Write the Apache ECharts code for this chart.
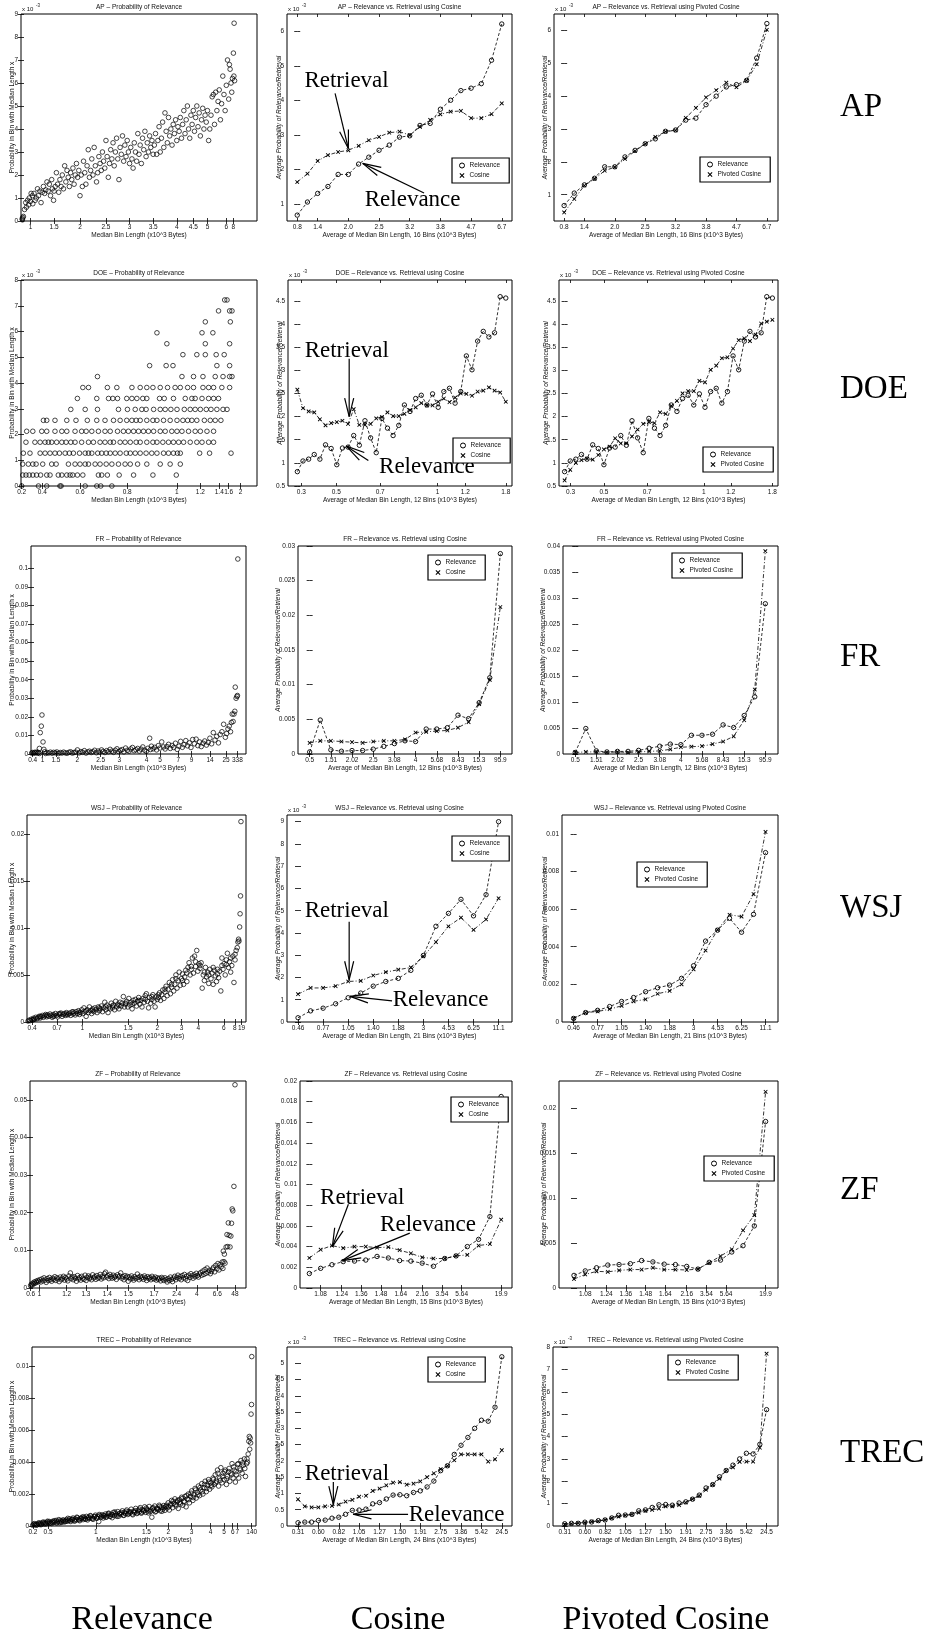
<!DOCTYPE html>
<html>
<head>
<meta charset="utf-8">
<script src="https://cdn.jsdelivr.net/npm/echarts@6/dist/echarts.min.js"></script>
<style>
  html, body { margin: 0; padding: 0; background: #fff; }
  #main { width: 935px; height: 1637px; }
</style>
</head>
<body>
<div id="main"></div>
<script>
// all probabilities are kept in units of 10^-3

// ---- AP ----
const apScatter = [[0.5,0.1],[0.8,0.15],[1,0.2],[0.6,0.05],[1.5,0.5],[2,0.8],[2.3,0.6],[2.8,0.9],[3.2,0.7],[3.5,1.0],[4,0.85],[4.3,1.2],[4.8,1.1],[5,0.75],
  [5.5,1.2],[6,0.9],[6.5,1.0],[7,1.4],[7.4,1.1],[8,1.3],[8.5,0.8],[9,1.25],[9.5,1.5],[10,1.2],[10.5,1.35],[11,1.7],[11.5,1.3],[12,1.6],[12.5,1.1],[13,1.8],[13.3,1.4],[13.8,0.9],[14,1.3],
  [14.5,1.5],[15,2.1],[15.5,1.6],[16,1.25],[16.5,1.8],[17,1.5],[17.5,2.0],[18,1.4],[18.5,2.4],[19,1.7],[19.5,2.2],[20,1.9],[20.5,1.5],[21,2.1],[21.5,1.8],[22,2.3],[22.5,1.6],[23,2.0],[23.5,2.5],[24,1.9],[24.5,2.2],
  [25,1.1],[25.5,2.0],[26,1.5],[26.5,2.6],[27,2.1],[27.5,1.6],[28,2.4],[28.5,3.1],[29,1.9],[29.5,2.2],[30,2.7],[30.5,2.0],[31,3.2],[31.5,2.4],[32,1.7],[32.5,2.1],[33,2.8],[33.5,2.5],[34,2.2],[34.5,3.0],[35,2.6],[35.5,2.3],[36,3.5],
  [36.5,2.8],[37,1.9],[37.5,2.5],[38,3.1],[38.5,2.7],[39,3.4],[39.5,2.4],[40,3.0],[40.5,3.6],[41,2.7],[41.5,1.8],[42,3.2],[42.5,2.9],[43,3.7],[43.5,2.6],[44,3.3],[44.5,2.8],[45,3.5],[45.5,3.0],[46,2.5],
  [46.5,3.2],[47,2.7],[47.5,2.3],[48,3.4],[48.5,3.0],[49,2.6],[49.5,3.8],[50,2.9],[50.5,3.3],[51,2.5],[51.5,3.6],[52,3.1],[52.5,3.9],[53,2.8],[53.5,3.4],[54,3.0],[54.5,3.7],[55,3.2],[55.5,3.5],[56,2.9],
  [56.5,3.3],[57,3.8],[57.5,2.9],[58,3.5],[58.5,4.1],[59,3.0],[59.5,3.6],[60,4.3],[60.5,3.2],[61,4.7],[61.5,3.9],[62,3.4],[62.5,4.5],[63,3.7],[63.5,4.0],[64,3.3],[64.5,4.2],[65,3.8],[65.5,4.4],[66,3.5],[66.5,4.1],
  [67,3.9],[67.5,4.5],[68,3.6],[68.5,4.2],[69,4.8],[69.5,3.8],[70,4.4],[70.5,5.0],[71,4.0],[71.5,3.6],[72,4.6],[72.5,4.2],
  [73,4.8],[73.5,3.9],[74,4.5],[74.5,5.0],[75,4.1],[75.5,4.7],[76,3.7],[76.5,4.4],[77,4.9],[77.5,4.0],[78,4.6],[78.5,4.3],[79,4.8],[79.5,3.5],[80,4.0],
  [80.5,4.6],[81,5.4],[81.5,5.5],[82,4.2],[82.5,5.6],[83,4.8],[83.5,5.2],[84,5.7],[84.5,4.4],[85,5.1],[85.5,6.3],[86,5.5],[86.5,4.8],[87,5.9],[87.5,7.0],[88,5.3],
  [88.3,6.8],[88.6,6.6],[89,6.0],[89.3,5.6],[89.6,6.2],[90,7.3],[90.2,6.3],[90.5,6.1],[90.3,8.6]];
const apScatterTicks = [[4,'1'],[14,'1.5'],[25,'2'],[36,'2.5'],[46,'3'],[56,'3.5'],[66,'4'],[73,'4.5'],[79,'5'],[87,'6'],[90,'8']];
const apRelevance = [0.67,1.05,1.3,1.5,1.85,1.85,2.15,2.35,2.55,2.7,2.93,2.97,3.27,3.33,3.74,4.0,4.28,4.35,4.48,5.16,6.21];
const apCosine = [1.63,1.87,2.24,2.41,2.5,2.55,2.68,2.84,2.94,3.06,3.09,2.99,3.23,3.43,3.59,3.67,3.69,3.48,3.48,3.6,3.91];
const apPivoted = [0.46,0.87,1.28,1.48,1.73,1.84,2.09,2.33,2.55,2.76,2.92,2.96,3.34,3.64,3.96,4.18,4.41,4.27,4.47,4.97,6.02];
const apBinTicks = [[0,'0.8'],[2,'1.4'],[5,'2.0'],[8,'2.5'],[11,'3.2'],[14,'3.8'],[17,'4.7'],[20,'6.7']];

// ---- DOE ---- (probabilities come in steps, so stored as [level, positions])
const doeScatterRows = [
  [0, [0.3,7.4,10.9,16.5,17,27.2,32.1,33.8,38.5]],
  [0.425, [0.7,2.1,3.5,5,6.6,8.3,10.9,12.3,15.8,17.3,19.4,20.8,21.9,23.9,26.2,32.8,34.2,36.6,41.6,47.7,55.9,65.8]],
  [0.85, [0.7,3.1,5,6.4,9.2,13,14.9,20.1,22.9,25,27.2,28.6,31.4,33.5,36.1,38.5,41.3,44.1,46.3,49.4,53.3,59,63.2,67.5]],
  [1.275, [1,3.8,8.1,10.2,12.3,14.4,16.3,18.7,20.5,22.2,24.8,27.2,28.6,30,32.5,34.2,36.1,37.8,39.9,42,44.6,46.3,48.4,50.5,53,55.4,57.6,60.4,62.5,64.6,66.3,67.5,75.7,79.9,89]],
  [1.7, [2.1,5.9,8.1,10.2,11.6,13,15.1,17.3,19.1,21.1,22.9,25.7,28.6,30.7,33.5,35.6,37.8,39.2,42,44.1,46.3,48.8,50.5,53.3,55.9,57.6,60.1,62.5,64.6,66.8,68.9,71.7,74.5,76.7,79.5,81.6]],
  [2.125, [2.4,5,8.8,10.9,14.4,17.3,19.4,22.9,25.7,27.6,30,32.8,35.6,37.8,40.9,43.4,45.5,47.7,49.8,51.9,54,56.2,59,61.1,63.9,66.1,68.2,71,73.8,76,78.8,81.6]],
  [2.55, [9.5,10.9,14.4,19.4,23.3,28.1,32.1,35.6,39.2,42,44.8,47,48.8,50.5,53.3,55.9,57.6,60.4,63.2,66.1,68.6,70.6,72.4,74.5,77.7,80.2,82.3,84.7]],
  [2.975, [21.1,27.2,32.4,41.3,45.1,48.4,51.2,53,56.2,59,61.1,63.5,66.1,69.2,71.7,73.8,76,78.5,80.5,83,85.6,87.3]],
  [3.4, [23.9,32.1,37.1,38.9,40.9,44.8,47,49.1,51.6,53.3,58.7,60.7,64.6,69.6,72.4,73.8,76.7,79.5,81.6,83.7]],
  [3.825, [26.2,28.6,36.6,40.6,47,50.5,53.3,55.9,59,62.1,65.3,67.5,70.6,73.1,77.1,79.5,81.6,85.1,88.4]],
  [4.25, [32.4,68.2,73.1,77.1,82.3,85.6,88.4,89.4]],
  [4.675, [54.5,61.5,64.4,83,88.4]],
  [5.1, [68.6,74.5,78.1,82.7,86.1]],
  [5.525, [61.8,78.1,88.4]],
  [5.95, [57.6,76.7,81.3]],
  [6.375, [78.1,88.7]],
  [6.8, [83.7,88.4,89.4]],
  [7.225, [86.3,87.3]]
];
const doeScatterTicks = [[0.3,'0.2'],[9,'0.4'],[25,'0.6'],[45,'0.8'],[66,'1'],[76,'1.2'],[84,'1.4'],[88,'1.6'],[93,'2']];
const doeRelevance = [0.81,1.04,1.08,1.18,1.08,1.39,1.31,0.96,1.32,1.34,1.59,1.38,1.91,1.54,1.22,1.96,1.75,1.59,1.81,2.25,2.11,2.39,2.46,2.25,2.49,2.2,2.54,2.61,2.29,2.54,3.31,3.01,3.63,3.84,3.72,3.81,4.59,4.56];
const doeCosine = [2.58,2.18,2.11,2.09,1.94,1.81,1.86,1.88,1.91,1.84,2.16,1.82,1.82,1.84,1.96,1.99,2.09,2.01,2.01,2.06,2.14,2.2,2.29,2.24,2.24,2.32,2.39,2.31,2.41,2.5,2.49,2.45,2.54,2.56,2.63,2.56,2.52,2.32];
const doePivoted = [0.62,0.85,1.0,1.06,1.09,1.07,1.17,1.29,1.35,1.53,1.42,1.42,1.57,1.72,1.84,1.88,1.86,2.09,2.06,2.23,2.34,2.5,2.55,2.55,2.77,2.74,3.01,3.1,3.26,3.28,3.47,3.65,3.69,3.63,3.77,4.01,4.05,4.09];
const doeBinTicksCos = [[0.7,'0.3'],[6.9,'0.5'],[14.7,'0.7'],[24.9,'1'],[29.8,'1.2'],[37,'1.8']];
const doeBinTicksPiv = [[1.07,'0.3'],[7,'0.5'],[14.7,'0.7'],[24.8,'1'],[29.6,'1.2'],[37,'1.8']];

// ---- FR ----
const frScatter = [[0.3,0.5],[0.8,0.8],[1.2,0.4],[1.7,0.9],[2.2,0.6],[2.6,1.0],[3.1,0.5],[3.5,0.8],[3.9,0.3],
  [3.9,3.0],[4.3,11.5],[4.8,15],[5.1,21],[5.6,6.5],[6.0,2.5],[6.4,1.2],
  [6.8,0.3],[7.5,0.8],[8.2,0.5],[9,1.0],[9.8,0.4],[10.5,0.9],[11.3,0.6],[12,1.1],[12.8,0.3],[13.6,0.8],[14.4,0.5],[15.2,1.0],[16,0.6],[16.8,0.4],[17.6,0.9],[18.4,1.2],[19.2,0.5],[20,0.8],[20.8,1.0],[21.6,2.2],[22.4,0.6],[23.2,1.3],[24,0.9],[24.8,1.8],[25.6,0.5],[26.4,1.1],[27.2,1.5],[28,0.8],[28.8,1.2],[29.6,2.0],[30.4,0.7],
  [31.2,1.6],[32,1.0],[32.8,2.2],[33.6,1.4],[34.4,0.8],[35.2,1.8],[36,1.2],[36.8,2.5],[37.6,1.5],[38.4,0.9],[39.2,2.0],[40,2.8],[40.8,1.3],[41.6,1.9],[42.4,2.4],[43.2,1.1],[44,3.2],[44.8,2.0],[45.6,1.5],[46.4,2.7],[47.2,3.5],[48,1.8],[48.8,2.3],[49.6,3.0],[50.4,1.6],[51.2,2.6],[52,3.8],[52.8,2.1],[53.6,1.4],[54.4,3.1],[55.2,8.5],[55.6,2.4],
  [56,4.2],[56.8,2.8],[57.6,3.6],[58.4,2.2],[59.2,4.5],[60,3.2],[60.8,6.5],[61.6,3.8],[62.4,2.7],[63.2,4.0],[64,5.2],[64.8,3.0],[65.6,4.6],[66.4,3.5],[67.2,5.8],[68,2.5],[68.8,4.2],[69.6,6.8],[70.4,3.6],[71.2,5.0],[72,7.2],[72.8,4.4],[73.6,6.0],[74.4,3.5],[75.2,7.8],
  [76,5.5],[76.8,8.0],[77.6,4.5],[78.4,6.5],[79.2,4.0],[80,5.8],[80.8,7.0],[81.6,4.8],[82.4,6.2],[83.2,8.5],[84,5.5],[84.8,11.5],[85.6,7.5],[86.4,9.5],[87.2,6.0],[88,10.5],[88.8,12.0],[89.6,16],[90.4,9.0],
  [91,11],[91.6,13.5],[92.2,15],[92.8,12],[93.2,17],[93.6,21.5],[94,17.5],[94.4,21.5],[94.8,23],[95,36],[95.4,30],[95.8,31],[96,31.5],[96.2,105]];
const frScatterTicks = [[0.8,'0.4'],[5.4,'1'],[11.6,'1.5'],[21.5,'2'],[32.4,'2.5'],[41.1,'3'],[53.8,'4'],[60,'5'],[68.5,'7'],[74.7,'9'],[83.3,'14'],[90.7,'25'],[96,'338']];
const frRelevance = [0.3,4.9,0.6,0.4,0.5,0.5,0.7,1.1,1.5,1.9,1.8,3.6,3.6,3.8,5.6,5.1,7.4,11.0,28.9];
const frCosine = [1.6,1.9,1.9,1.8,1.7,1.6,1.8,1.9,1.9,2.1,3.1,3.2,3.3,3.4,3.8,4.6,7.2,10.7,21.2];
const frPivoted = [0.3,0.4,0.4,0.3,0.4,0.3,0.4,0.5,0.6,0.9,1.3,1.4,1.5,1.9,2.4,3.4,6.5,12.4,39.0];
const frBinTicks = [[0,'0.5'],[2,'1.51'],[4,'2.02'],[6,'2.5'],[8,'3.08'],[10,'4'],[12,'5.68'],[14,'8.43'],[16,'15.3'],[18,'95.9']];

// ---- WSJ ----
const wsjScatter = [[0.5,0.1],[1,0.2],[1.5,0.15],[2,0.3],[2.5,0.22],[3,0.4],[3.5,0.3],[4,0.5],[4.5,0.35],[5,0.45],[5.5,0.6],[6,0.42],[6.5,0.55],[7,0.7],[7.5,0.5],[8,0.65],[8.5,0.8],[9,0.55],[9.5,0.75],[10,0.6],[10.5,0.85],[11,0.7],[11.5,0.5],[12,0.8],
  [12.5,0.65],[13,0.9],[13.5,0.7],[14,0.55],[14.5,0.85],[15,0.75],[15.5,0.95],[16,0.6],[16.5,0.8],[17,0.9],[17.5,0.7],[18,1.0],[18.5,0.75],[19,0.85],[19.5,0.95],[20,0.7],[20.5,1.05],[21,0.85],[21.5,0.95],[22,0.75],[22.5,1.1],[23,0.9],[23.5,1.2],[24,0.8],[24.5,1.0],
  [25,1.3],[25.5,0.9],[26,1.5],[26.5,1.1],[27,0.6],[27.5,1.3],[28,1.0],[28.5,1.6],[29,1.2],[29.5,0.9],[30,1.4],[30.5,1.1],[31,1.5],[31.5,1.3],[32,1.0],[32.5,1.6],[33,1.2],[33.5,1.4],[34,1.7],[34.5,1.1],[35,1.5],[35.5,2.1],[36,1.3],[36.5,1.8],[37,1.0],[37.5,1.6],[38,1.4],[38.5,2.0],[39,1.5],[39.5,1.8],[40,1.3],[40.5,2.2],[41,1.6],[41.5,1.9],[42,1.4],[42.5,2.1],[43,1.7],[43.5,2.0],[44,2.7],[44.5,1.6],
  [45,1.9],[45.5,2.2],[46,1.6],[46.5,2.5],[47,1.8],[47.5,2.1],[48,1.4],[48.5,2.3],[49,2.0],[49.5,2.4],[50,1.7],[50.5,2.2],[51,2.6],[51.5,1.9],[52,2.3],[52.5,1.6],[53,2.5],[53.5,2.1],[54,2.8],[54.5,3.0],[55,2.2],[55.5,1.5],[56,2.6],[56.5,2.0],[57,2.4],[57.5,2.9],[58,2.2],[58.5,1.6],[59,2.7],[59.5,2.4],
  [60,2.6],[60.5,3.1],[61,2.3],[61.5,2.9],[62,3.4],[62.5,2.5],[63,3.2],[63.5,3.8],[64,2.8],[64.5,3.5],[65,4.2],[65.5,3.0],[66,3.7],[66.5,4.5],[67,3.3],[67.5,4.0],[68,5.0],[68.5,3.6],[69,4.4],[69.5,5.3],[70,3.9],
  [70.5,4.6],[71,5.1],[71.5,4.0],[72,4.8],[72.5,5.5],[73,4.3],[73.5,5.8],[74,6.3],[74.5,5.0],[75,5.6],[75.5,6.8],[76,5.2],[76.5,7.0],[77,5.9],[77.5,7.6],[78,5.4],[78.5,6.2],[79,5.7],
  [79.5,6.3],[80,3.6],[80.5,5.0],[81,4.4],[81.5,5.8],[82,4.8],[82.5,5.3],[83,4.1],[83.5,5.6],[84,4.6],[84.5,5.2],[85,4.0],[85.5,5.5],[86,4.9],[86.5,4.3],[87,5.1],[87.5,4.7],[88,5.4],
  [88.5,3.3],[89,6.8],[89.5,5.6],[90,6.2],[90.5,5.0],[91,6.6],[91.5,7.3],[92,5.8],[92.5,6.4],[93,5.3],
  [93.5,6.0],[94,7.0],[94.5,4.2],[95,6.6],[95.5,7.6],[96,7.9],[96.3,8.5],[96.6,8.8],[96.8,8.6],
  [97.1,10.1],[97.3,11.5],[97.5,13.4],[97.7,21.3],
  [3,0.25],[6,0.6],[9,0.7],[12,0.6],[15,0.9],[18,0.85],[21,1.1],[24,1.05],[27,1.2],[30,1.25],[33,1.5],[36,1.6],[39,1.7],[42,1.75],[45,2.0],[48,1.9],[51,2.3],[54,2.4],[57,2.7],[60,2.9],[63,3.5],[66,4.0],[68,4.6],[71,4.4],[73,5.2],[75,5.9],[77,6.4],[79,6.0],[81,5.3],[83,5.0],[85,5.8],[87,5.6],[89,6.0],[91,6.1],[93,6.8],[95,7.2]];
const wsjScatterTicks = [[2.3,'0.4'],[13.7,'0.7'],[25.3,'1'],[46.2,'1.5'],[59.5,'2'],[70.6,'3'],[78.2,'4'],[89.9,'6'],[94.9,'8'],[98,'19']];
const wsjRelevance = [0.19,0.5,0.62,0.82,1.09,1.3,1.61,1.82,1.96,2.32,2.99,4.3,4.88,5.51,4.77,5.72,9.0];
const wsjCosine = [1.25,1.53,1.53,1.61,1.82,1.85,2.09,2.24,2.35,2.45,2.95,3.59,4.3,4.69,4.14,4.61,5.56];
const wsjPivoted = [0.2,0.5,0.56,0.68,0.86,1.1,1.2,1.5,1.65,2.0,2.8,3.8,4.9,5.7,5.6,6.8,10.1];
const wsjBinTicks = [[0,'0.46'],[2,'0.77'],[4,'1.05'],[6,'1.40'],[8,'1.88'],[10,'3'],[12,'4.53'],[14,'6.25'],[16,'11.1']];

// ---- ZF ----
const zfScatter = [[0.3,0.6],[0.6,1.0],[1,0.8],[1.3,1.3],[1.7,1.1],[2,1.6],[2.4,1.3],[2.8,1.8],[3.2,1.5],[3.6,2.0],[4,1.7],[4.5,2.2],[5,1.6],[5.5,2.4],[6,1.9],[6.5,2.7],[7,2.1],[7.5,1.5],[8,2.5],[8.5,2.0],[9,2.8],[9.5,2.2],[10,1.8],[10.5,2.6],[11,2.3],[11.5,3.0],[12,2.0],[12.5,2.7],[13,2.4],[13.5,1.7],[14,2.9],[14.5,2.2],[15,2.6],[15.5,3.1],[16,2.1],[16.5,2.8],[17,2.4],[17.5,1.9],[18,3.2],[18.7,4.0],[19,2.5],[19.5,2.9],[20,2.2],[20.5,3.0],[21,2.6],[21.5,1.8],[22,3.3],[22.5,2.4],[23,2.8],[23.5,2.1],[24,3.1],[24.5,2.6],[25,2.3],[25.5,3.4],[26,2.0],[26.5,2.8],[27,3.2],[27.5,2.5],[28,2.9],[28.5,2.2],[29,3.5],[29.5,2.7],[30,3.0],[30.5,2.3],[31,3.3],[31.5,2.6],[32,2.9],[32.5,3.6],[33,2.4],[33.5,3.1],[34,2.7],[34.5,3.8],[35,4.2],[35.5,2.9],[36,3.3],[36.5,2.5],[37,3.6],[37.5,3.0],[38,2.6],[38.5,3.4],[39,2.8],[39.5,3.1],[40,2.3],[40.5,3.5],[41,2.9],[41.5,3.2],[42,4.0],[42.5,2.6],[43,3.0],[43.5,2.2],[44,3.3],[44.5,2.7],[45,3.1],[45.5,1.8],[46,2.9],[46.5,2.4],[47,3.2],[47.5,2.6],[48,2.1],[48.5,3.0],[49,2.5],[49.7,3.7],[50,2.8],[50.5,2.2],[51,3.1],[51.5,2.6],[52,2.9],[52.5,2.3],[53,3.2],[53.5,2.7],[54,2.0],[54.5,3.0],[55,2.5],[55.5,2.8],[56,2.2],[56.5,3.1],[57,2.6],[57.5,2.4],[58,2.9],[58.5,2.1],[59,2.7],[59.5,2.3],[60,2.6],[60.5,1.9],[61,2.8],[61.5,2.4],[62,2.0],[62.5,2.7],[63,2.2],[63.5,1.6],[64,2.5],[64.5,2.0],[65,2.9],[65.5,2.3],[66,1.7],[66.5,2.6],[67,3.1],[67.5,2.2],[68,2.8],[68.5,3.4],[69,2.5],[69.5,3.0],[70,2.2],[70.5,3.3],[71,2.7],[71.5,3.6],[72,2.4],[72.5,3.1],[73,2.0],[73.5,3.4],[74,2.8],[74.5,3.8],[75,3.2],[75.5,2.6],[76,3.5],[76.5,3.0],[77,3.9],[77.5,3.3],[78,2.9],[78.5,3.7],[79,4.1],[79.5,3.4],[80,4.5],[80.5,3.6],[81,4.9],[81.5,3.9],[82,5.3],[82.5,4.2],[83,4.7],[83.5,3.8],[84,4.4],[84.5,5.0],[85,5.5],[85.5,4.3],[86,6.0],[86.5,5.1],[87,6.5],[87.5,4.8],[88,6.2],[88.5,5.6],[89,6.9],[89.3,5.2],[89.5,9.8],[89.8,7.0],[90,9.0],[90.3,6.6],[90.8,10.9],[91.2,14.2],[91.5,11.0],[91.8,17.3],[92.2,14.0],[92.6,10.9],[93,13.8],[93.3,17.2],[93.6,21],[93.9,20.5],[94.4,27],[94.9,54]];
const zfScatterTicks = [[0.3,'0.6'],[4.3,'1'],[17,'1.2'],[25.9,'1.3'],[35.8,'1.4'],[45.5,'1.5'],[57.4,'1.7'],[67.9,'2.4'],[77.2,'4'],[86.7,'6.6'],[94.9,'48']];
const zfRelevance = [1.4,1.9,2.25,2.55,2.6,2.7,3.05,2.9,2.65,2.6,2.4,2.1,2.85,3.1,4.0,4.7,6.9,18.5];
const zfCosine = [2.9,3.7,4.1,3.85,4.0,4.0,3.9,3.95,3.65,3.35,2.95,2.85,2.85,3.1,3.2,4.1,4.25,6.6];
const zfPivoted = [1.0,1.5,1.85,1.8,1.95,2.05,2.05,2.25,2.05,2.05,2.0,2.1,2.8,3.55,4.3,6.4,8.1,21.8];
const zfBinTicks = [[1,'1.08'],[2.87,'1.24'],[4.6,'1.36'],[6.36,'1.48'],[8.1,'1.64'],[10,'2.16'],[11.75,'3.54'],[13.5,'5.64'],[17,'19.9']];

// ---- TREC ----
const trecScatter = [[0.3,0.05],[0.8,0.1],[1.3,0.07],[1.8,0.12],[2.3,0.08],[2.8,0.15],[3.3,0.1],[3.8,0.18],[4.3,0.12],[4.8,0.2],[5.3,0.14],[5.8,0.22],[6.3,0.16],[6.8,0.25],[7.3,0.18],[7.8,0.28],[8.3,0.2],[8.8,0.15],[9.3,0.3],[9.8,0.22],[10.3,0.26],[10.8,0.35],[11.3,0.24],[11.8,0.3],[12.3,0.2],[12.8,0.33],[13.3,0.27],[13.8,0.38],[14.3,0.25],[14.8,0.32],
  [15.3,0.4],[15.8,0.3],[16.3,0.36],[16.8,0.45],[17.3,0.28],[17.8,0.4],[18.3,0.5],[18.8,0.35],[19.3,0.44],[19.8,0.38],[20.3,0.52],[20.8,0.42],[21.3,0.33],[21.8,0.48],[22.3,0.55],[22.8,0.4],[23.3,0.5],[23.8,0.45],[24.3,0.6],[24.8,0.38],[25.3,0.55],[25.8,0.48],[26.3,0.62],[26.8,0.5],[27.3,0.42],[27.8,0.58],[28.3,0.68],
  [28.8,0.52],[29.3,0.6],[29.8,0.28],[30.3,0.65],[30.8,0.55],[31.3,0.7],[31.8,0.5],[32.3,0.62],[32.8,0.75],[33.3,0.58],[33.8,0.68],[34.3,0.8],[34.8,0.6],[35.3,0.72],[35.8,0.52],[36.3,0.85],[36.8,0.65],[37.3,0.78],[37.8,0.7],[38.3,0.9],[38.8,0.62],[39.3,0.8],[39.8,0.72],[40.3,0.95],[40.8,0.68],[41.3,0.85],[41.8,0.78],[42.3,1.0],[42.8,0.72],[43.3,0.9],[43.8,0.82],[44.3,1.05],[44.8,0.75],
  [45.3,0.92],[45.8,0.85],[46.3,1.1],[46.8,0.78],[47.3,0.98],[47.8,0.88],[48.3,1.15],[48.8,0.8],[49.3,1.02],[49.8,0.92],[50.3,1.2],[50.8,0.85],[51.3,1.05],[51.8,0.95],[52.3,1.22],[52.8,0.9],[53.5,0.55],[53.8,1.1],[54.3,0.98],[54.8,1.25],[55.3,0.92],[55.8,1.12],[56.3,1.02],[56.8,1.3],[57.3,0.95],[57.8,1.18],[58.3,1.05],[58.8,1.28],[59.3,0.98],[59.8,1.22],
  [60.3,1.12],[60.8,1.45],[61.3,1.0],[61.8,1.3],[62.3,1.6],[62.8,1.15],[63.3,1.42],[63.8,1.7],[64.3,1.25],[64.8,1.52],[65.3,1.1],[65.8,1.65],[66.3,1.38],[66.8,1.8],[67.3,1.3],[67.8,1.55],[68.3,1.85],[68.8,1.2],
  [69.3,1.7],[69.8,2.0],[70.3,1.45],[70.8,1.85],[71.3,2.2],[71.8,1.6],[72.3,1.95],[72.8,2.35],[73.3,1.75],[73.8,2.1],[74.3,2.5],[74.8,1.9],
  [75.3,2.25],[75.8,2.65],[76.3,2.0],[76.8,2.4],[77.3,2.8],[77.8,2.15],[78.3,2.55],[78.8,2.9],[79.3,2.3],[79.8,2.7],[80.3,2.45],[80.8,3.0],
  [81.3,2.6],[81.8,3.2],[82.3,2.8],[82.8,3.5],[83.3,2.5],[83.8,3.0],[84.3,3.65],[84.8,2.7],[85.3,3.3],[85.8,2.9],[86.3,3.5],[86.8,2.6],[87.3,3.1],[87.8,3.4],
  [88.3,2.8],[88.8,3.3],[89.3,3.9],[89.8,3.0],[90.3,3.5],[90.8,2.75],[91.3,3.2],[91.8,3.85],[92.3,3.0],[92.8,3.6],[93.3,4.1],[93.8,3.3],[94.3,3.8],[94.8,4.2],[95.3,3.1],[95.8,3.9],
  [96.2,4.0],[96.5,4.5],[96.8,5.3],[97,5.6],[97.2,4.8],[97.4,5.5],[97.6,5.2],[97.8,7.0],[98,7.6],[98.1,10.6],
  [1,0.15],[2,0.05],[3,0.2],[4,0.08],[5,0.25],[6,0.12],[7,0.3],[8,0.17],[9,0.24],[10,0.33],[11,0.18],[12,0.4],[13,0.22],[14,0.35],[15,0.28],[16,0.48],[17,0.34],[18,0.42],[19,0.3],[20,0.55],[21,0.38],[22,0.46],[23,0.58],[24,0.42],[25,0.5],[26,0.65],[27,0.45],[28,0.6],[29,0.48],[30,0.72],[31,0.58],[32,0.66],[33,0.54],[34,0.78],[35,0.62],[36,0.7],[37,0.88],[38,0.6],[39,0.76],[40,0.84],[41,0.66],[42,0.92],[43,0.78],[44,0.88],[45,0.7],[46,0.95],[47,0.82],[48,1.05],[49,0.86],[50,0.98],[51,1.12],[52,0.82],[53,1.0],[54,1.15],[55,0.88],[56,1.08],[57,1.22],[58,0.92],[59,1.15],[60,1.3],[61,1.2],[62,1.38],[63,1.55],[64,1.35],[65,1.6],[66,1.48],[67,1.72],[68,1.5],[69,1.9],[70,1.65],[71,2.05],[72,1.78],[73,2.25],[74,1.95],[75,2.4],[76,2.15],[77,2.6],[78,2.35],[79,2.75],[80,2.55],[81,2.9],[82,2.7],[83,3.3],[84,2.85],[85,3.1],[86,3.4],[87,2.95],[88,3.6],[89,3.2],[90,3.7],[91,3.4],[92,3.9],[93,3.5],[94,3.95],[95,3.6],[96,4.2]];
const trecScatterTicks = [[0.4,'0.2'],[7.2,'0.5'],[28.5,'1'],[51.1,'1.5'],[60.8,'2'],[71.2,'3'],[79.7,'4'],[85.7,'5'],[89.6,'6'],[91.7,'7'],[98.1,'140']];
const trecRelevance = [0.1,0.12,0.12,0.17,0.18,0.24,0.27,0.36,0.48,0.49,0.52,0.68,0.72,0.83,0.95,0.96,0.93,1.03,1.08,1.2,1.38,1.7,1.85,2.2,2.48,2.72,3.0,3.25,3.22,3.65,5.2];
const trecCosine = [0.82,0.6,0.57,0.57,0.6,0.62,0.66,0.75,0.8,0.9,0.93,1.08,1.15,1.25,1.33,1.35,1.27,1.3,1.37,1.5,1.62,1.75,1.85,2.02,2.2,2.2,2.2,2.2,1.98,2.05,2.33];
const trecPivoted = [0.07,0.1,0.13,0.15,0.2,0.22,0.27,0.35,0.42,0.47,0.52,0.6,0.68,0.72,0.78,0.88,0.88,0.93,1.05,1.2,1.35,1.62,1.85,2.12,2.48,2.62,2.87,2.88,2.88,3.5,7.7];
const trecBinTicks = [[0,'0.31'],[3,'0.60'],[6,'0.82'],[9,'1.05'],[12,'1.27'],[15,'1.50'],[18,'1.91'],[21,'2.75'],[24,'3.86'],[27,'5.42'],[30,'24.5']];

const rowLabels = ['AP', 'DOE', 'FR', 'WSJ', 'ZF', 'TREC'];
const colLabels = ['Relevance', 'Cosine', 'Pivoted Cosine'];

// ---- layout ----
const SANS = '"Liberation Sans", Arimo, Helvetica, Arial, sans-serif';
const SERIF = '"Liberation Serif", Tinos, "Times New Roman", serif';
const X_MARK = 'path://M0,1.5L1.5,0L5,3.5L8.5,0L10,1.5L6.5,5L10,8.5L8.5,10L5,6.5L1.5,10L0,8.5L3.5,5Z';
const rowBox = [[14, 221], [280, 486], [546, 754], [815, 1022], [1081, 1288], [1347, 1526]];
const rowLabelY = [107, 389, 657, 908, 1190, 1453];
const colLabelX = [142, 398, 666];
const scatterX = 'Median Bin Length (x10^3 Bytes)';
const scatterY = 'Probability in Bin with Median Length x';
const lineY = 'Average Probability of Relevance/Retrieval';
const binsX = n => 'Average of Median Bin Length, ' + n + ' Bins (x10^3 Bytes)';
const steps = (a, b, s) => { const r = []; for (let v = a; v <= b + 1e-9; v += s) r.push(+v.toFixed(6)); return r; };

const panels = [
  { row: 0, left: 21, right: 257, yNameX: 12, title: 'AP \u2013 Probability of Relevance', points: apScatter,
    xTicks: apScatterTicks, xMin: 0, xMax: 100, yMin: 0, yMax: 9, yTicks: steps(0, 9, 1), exp: true },
  { row: 0, left: 287, right: 512, yNameX: 279, title: 'AP \u2013 Relevance vs. Retrieval using Cosine', bins: 16,
    rel: apRelevance, ret: apCosine, retName: 'Cosine', xTicks: apBinTicks, xMin: -1, xMax: 21,
    yMin: 0.5, yMax: 6.5, yTicks: steps(1, 6, 1), exp: true, legend: [452, 158],
    notes: [{ text: 'Retrieval', at: [0.7, 4.55], from: [3.7, 4.2], to: [5.0, 2.6] },
            { text: 'Relevance', at: [6.6, 1.12], from: [12.4, 1.31], to: [6.4, 2.17] }] },
  { row: 0, left: 554, right: 778, yNameX: 545, title: 'AP \u2013 Relevance vs. Retrieval using Pivoted Cosine', bins: 16,
    rel: apRelevance, ret: apPivoted, retName: 'Pivoted Cosine', xTicks: apBinTicks, xMin: -1, xMax: 21.1,
    yMin: 0.2, yMax: 6.5, yTicks: steps(1, 6, 1), exp: true, legend: [700, 157] },

  { row: 1, left: 21, right: 257, yNameX: 12, title: 'DOE \u2013 Probability of Relevance',
    points: doeScatterRows.flatMap(r => r[1].map(x => [x, r[0]])),
    xTicks: doeScatterTicks, xMin: 0, xMax: 100, yMin: 0, yMax: 8, yTicks: steps(0, 8, 1), exp: true },
  { row: 1, left: 288, right: 512, yNameX: 280, title: 'DOE \u2013 Relevance vs. Retrieval using Cosine', bins: 12,
    rel: doeRelevance, ret: doeCosine, retName: 'Cosine', xTicks: doeBinTicksCos, xMin: -1.66, xMax: 38.1,
    yMin: 0.5, yMax: 4.95, yTicks: steps(0.5, 4.5, 0.5), exp: true, legend: [453, 438],
    notes: [{ text: 'Retrieval', at: [1.3, 3.41], from: [9.2, 3.25], to: [9.2, 2.0] },
            { text: 'Relevance', at: [14.5, 0.91], from: [12.6, 1.05], to: [8.7, 1.36] }] },
  { row: 1, left: 559, right: 778, yNameX: 546, title: 'DOE \u2013 Relevance vs. Retrieval using Pivoted Cosine', bins: 12,
    rel: doeRelevance, ret: doePivoted, retName: 'Pivoted Cosine', xTicks: doeBinTicksPiv, xMin: -1, xMax: 38,
    yMin: 0.5, yMax: 4.95, yTicks: steps(0.5, 4.5, 0.5), exp: true, legend: [703, 447] },

  { row: 2, left: 31, right: 246, yNameX: 12, title: 'FR \u2013 Probability of Relevance', points: frScatter,
    xTicks: frScatterTicks, xMin: 0, xMax: 100, yMin: 0, yMax: 112, yTicks: steps(0, 100, 10), exp: false },
  { row: 2, left: 298, right: 512, yNameX: 278, title: 'FR \u2013 Relevance vs. Retrieval using Cosine', bins: 12,
    rel: frRelevance, ret: frCosine, retName: 'Cosine', xTicks: frBinTicks, xMin: -1.1, xMax: 19.1,
    yMin: 0, yMax: 30, yTicks: steps(0, 30, 5), exp: false, legend: [428, 555] },
  { row: 2, left: 563, right: 778, yNameX: 543, title: 'FR \u2013 Relevance vs. Retrieval using Pivoted Cosine', bins: 12,
    rel: frRelevance, ret: frPivoted, retName: 'Pivoted Cosine', xTicks: frBinTicks, xMin: -1.16, xMax: 19.2,
    yMin: 0, yMax: 40, yTicks: steps(0, 40, 5), exp: false, legend: [672, 553] },

  { row: 3, left: 27, right: 246, yNameX: 12, title: 'WSJ \u2013 Probability of Relevance', points: wsjScatter,
    xTicks: wsjScatterTicks, xMin: 0, xMax: 100, yMin: 0, yMax: 22, yTicks: steps(0, 20, 5), exp: false },
  { row: 3, left: 287, right: 512, yNameX: 278, title: 'WSJ \u2013 Relevance vs. Retrieval using Cosine', bins: 21,
    rel: wsjRelevance, ret: wsjCosine, retName: 'Cosine', xTicks: wsjBinTicks, xMin: -0.88, xMax: 17.07,
    yMin: 0, yMax: 9.3, yTicks: steps(0, 9, 1), exp: true, legend: [452, 836],
    notes: [{ text: 'Retrieval', at: [0.53, 5.0], from: [4.08, 4.5], to: [4.08, 1.9] },
            { text: 'Relevance', at: [7.55, 1.0], from: [7.5, 0.95], to: [4.15, 1.15] }] },
  { row: 3, left: 562, right: 778, yNameX: 545, title: 'WSJ \u2013 Relevance vs. Retrieval using Pivoted Cosine', bins: 21,
    rel: wsjRelevance, ret: wsjPivoted, retName: 'Pivoted Cosine', xTicks: wsjBinTicks, xMin: -0.97, xMax: 17.04,
    yMin: 0, yMax: 11, yTicks: steps(0, 10, 2), exp: false, legend: [637, 862] },

  { row: 4, left: 30, right: 246, yNameX: 12, title: 'ZF \u2013 Probability of Relevance', points: zfScatter,
    xTicks: zfScatterTicks, xMin: 0, xMax: 100, yMin: 0, yMax: 55, yTicks: steps(0, 50, 10), exp: false },
  { row: 4, left: 300, right: 512, yNameX: 278, title: 'ZF \u2013 Relevance vs. Retrieval using Cosine', bins: 15,
    rel: zfRelevance, ret: zfCosine, retName: 'Cosine', xTicks: zfBinTicks, xMin: -0.83, xMax: 17.96,
    yMin: 0, yMax: 20, yTicks: steps(0, 20, 2), exp: false, legend: [451, 1097],
    notes: [{ text: 'Retrieval', at: [0.95, 8.67], from: [3.46, 8.1], to: [2.04, 4.0] },
            { text: 'Relevance', at: [6.27, 6.13], from: [8.9, 5.3], to: [2.93, 2.65] }] },
  { row: 4, left: 559, right: 778, yNameX: 544, title: 'ZF \u2013 Relevance vs. Retrieval using Pivoted Cosine', bins: 15,
    rel: zfRelevance, ret: zfPivoted, retName: 'Pivoted Cosine', xTicks: zfBinTicks, xMin: -1.33, xMax: 18.1,
    yMin: 0, yMax: 23, yTicks: steps(0, 20, 5), exp: false, legend: [704, 1156] },

  { row: 5, left: 32, right: 256, yNameX: 12, title: 'TREC \u2013 Probability of Relevance', points: trecScatter,
    xTicks: trecScatterTicks, xMin: 0, xMax: 100, yMin: 0, yMax: 11.2, yTicks: steps(0, 10, 2), exp: false },
  { row: 5, left: 287, right: 512, yNameX: 278, title: 'TREC \u2013 Relevance vs. Retrieval using Cosine', bins: 24,
    rel: trecRelevance, ret: trecCosine, retName: 'Cosine', xTicks: trecBinTicks, xMin: -1.62, xMax: 31.5,
    yMin: 0, yMax: 5.5, yTicks: steps(0, 5, 0.5), exp: true, legend: [428, 1357],
    notes: [{ text: 'Retrieval', at: [1.0, 1.6], from: [5.2, 1.35], to: [5.2, 0.66] },
            { text: 'Relevance', at: [16.3, 0.33], from: [16.2, 0.36], to: [8.1, 0.36] }] },
  { row: 5, left: 553, right: 778, yNameX: 544, title: 'TREC \u2013 Relevance vs. Retrieval using Pivoted Cosine', bins: 24,
    rel: trecRelevance, ret: trecPivoted, retName: 'Pivoted Cosine', xTicks: trecBinTicks, xMin: -1.74, xMax: 31.7,
    yMin: 0, yMax: 8, yTicks: steps(0, 8, 1), exp: true, legend: [668, 1355] }
];

const fmt = v => String(+v.toFixed(6));
const TXT = '#111';
const circleStyle = { color: 'rgba(0,0,0,0)', borderColor: '#000', borderWidth: 0.9 };

const grid = [], xAxis = [], yAxis = [], series = [], legend = [];
panels.forEach((p, i) => {
  const [top, bottom] = rowBox[p.row];
  p.top = top; p.bottom = bottom;
  grid.push({ left: p.left, top: top, width: p.right - p.left, height: bottom - top, show: true,
    borderColor: '#000', borderWidth: 1, backgroundColor: 'transparent', outerBoundsMode: 'none' });

  const xPos = p.xTicks.map(t => t[0]);
  // look the label up with a tolerance, in case the tick value picks up float noise
  const xLabel = v => { const t = p.xTicks.find(t => Math.abs(t[0] - v) < 1e-6); return t ? t[1] : ''; };
  const tick = vals => ({ show: true, inside: true, length: 3, customValues: vals, lineStyle: { color: '#000', width: 0.8 } });
  const xName = p.points ? scatterX : binsX(p.bins);

  xAxis.push({ gridIndex: i, type: 'value', position: 'bottom', min: p.xMin, max: p.xMax,
    axisLine: { show: false }, splitLine: { show: false }, axisTick: tick(xPos),
    axisLabel: { customValues: xPos, formatter: xLabel, fontSize: 6.5, color: TXT, margin: 3, fontFamily: SANS,
      showMinLabel: true, showMaxLabel: true, hideOverlap: false },
    name: xName, nameLocation: 'middle', nameGap: 10, nameTextStyle: { fontSize: 6.5, color: TXT, fontFamily: SANS } });
  xAxis.push({ gridIndex: i, type: 'value', position: 'top', min: p.xMin, max: p.xMax,
    axisLine: { show: false }, splitLine: { show: false }, axisTick: tick(xPos), axisLabel: { show: false } });

  yAxis.push({ gridIndex: i, type: 'value', position: 'left', min: p.yMin, max: p.yMax,
    axisLine: { show: false }, splitLine: { show: false }, axisTick: tick(p.yTicks),
    axisLabel: { customValues: p.yTicks, formatter: v => p.exp ? fmt(v) : fmt(v / 1000), fontSize: 6.5, color: TXT, margin: 3, fontFamily: SANS } });
  yAxis.push({ gridIndex: i, type: 'value', position: 'right', min: p.yMin, max: p.yMax,
    axisLine: { show: false }, splitLine: { show: false }, axisTick: tick(p.yTicks), axisLabel: { show: false } });

  if (p.points) {
    series.push({ type: 'scatter', xAxisIndex: 2 * i, yAxisIndex: 2 * i, data: p.points,
      symbol: 'circle', symbolSize: 4.6, itemStyle: circleStyle, silent: true });
  } else {
    series.push({ type: 'line', name: 'Relevance', xAxisIndex: 2 * i, yAxisIndex: 2 * i,
      data: p.rel.map((v, k) => [k, v]), symbol: 'circle', symbolSize: 4.4, showAllSymbol: true,
      itemStyle: circleStyle, lineStyle: { color: '#000', width: 0.8, type: [3, 2] }, silent: true });
    series.push({ type: 'line', name: p.retName, xAxisIndex: 2 * i, yAxisIndex: 2 * i,
      data: p.ret.map((v, k) => [k, v]), symbol: X_MARK, symbolSize: 4.2, showAllSymbol: true,
      itemStyle: { color: '#000' }, lineStyle: { color: '#000', width: 0.8, type: [4, 2, 1, 2] }, silent: true });
    legend.push({ left: p.legend[0], top: p.legend[1], orient: 'vertical', selectedMode: false,
      padding: [4, 9, 4, 7], itemGap: 3, itemWidth: 5, itemHeight: 5,
      borderColor: '#000', borderWidth: 1.2, backgroundColor: '#fff',
      textStyle: { fontSize: 6.5, color: TXT, fontFamily: SANS },
      data: [{ name: 'Relevance', icon: 'circle', itemStyle: { color: 'rgba(0,0,0,0)', borderColor: '#000', borderWidth: 1 } },
             { name: p.retName, icon: X_MARK, itemStyle: { color: '#000', borderWidth: 0 } }] });
  }
});

const chart = echarts.init(document.getElementById('main'), null, { renderer: 'canvas' });
chart.setOption({ animation: false, backgroundColor: '#fff', grid, xAxis, yAxis, series, legend });

// titles, axis names, annotations and side labels
const g = [];
const text = (x, y, str, size, opts) => Object.assign({ type: 'text', x: x, y: y, silent: true,
  style: Object.assign({ text: str, fontSize: size, fontFamily: SANS, fill: TXT,
    align: 'center', textAlign: 'center', verticalAlign: 'middle', textVerticalAlign: 'middle' }, (opts && opts.style) || {}) },
  (opts && opts.el) || {});
const line = (a, b, w) => ({ type: 'line', silent: true, z: 50,
  shape: { x1: a[0], y1: a[1], x2: b[0], y2: b[1] }, style: { stroke: '#000', lineWidth: w } });

panels.forEach((p, i) => {
  g.push(text((p.left + p.right) / 2, p.top - 7, p.title, 6.5));
  g.push(text(p.yNameX, (p.top + p.bottom) / 2, p.points ? scatterY : lineY, 6.5,
    { el: { rotation: Math.PI / 2 }, style: { fontStyle: p.points ? 'normal' : 'italic' } }));
  if (p.exp) {
    g.push(text(p.left + 1, p.top - 5, 'x 10', 6, { style: { align: 'left', textAlign: 'left' } }));
    g.push(text(p.left + 15, p.top - 8, '-3', 4.5, { style: { align: 'left', textAlign: 'left' } }));
  }
  (p.notes || []).forEach(n => {
    const finder = { xAxisIndex: 2 * i, yAxisIndex: 2 * i };
    const at = chart.convertToPixel(finder, n.at);
    const a = chart.convertToPixel(finder, n.from);
    const b = chart.convertToPixel(finder, n.to);
    g.push(text(at[0], at[1], n.text, 23, { style: { fontFamily: SERIF, fill: '#000', align: 'left', textAlign: 'left' } }));
    const ang = Math.atan2(b[1] - a[1], b[0] - a[0]);
    const L = 19, h = 0.24;
    g.push(line(a, b, 1.2));
    g.push(line(b, [b[0] - L * Math.cos(ang - h), b[1] - L * Math.sin(ang - h)], 1.2));
    g.push(line(b, [b[0] - L * Math.cos(ang + h), b[1] - L * Math.sin(ang + h)], 1.2));
  });
});
rowLabels.forEach((s, k) => g.push(text(840, rowLabelY[k], s, 33,
  { style: { fontFamily: SERIF, fill: '#000', align: 'left', textAlign: 'left' } })));
colLabels.forEach((s, k) => g.push(text(colLabelX[k], 1620, s, 34, { style: { fontFamily: SERIF, fill: '#000' } })));

chart.setOption({ graphic: { elements: g } });
</script>
</body>
</html>
